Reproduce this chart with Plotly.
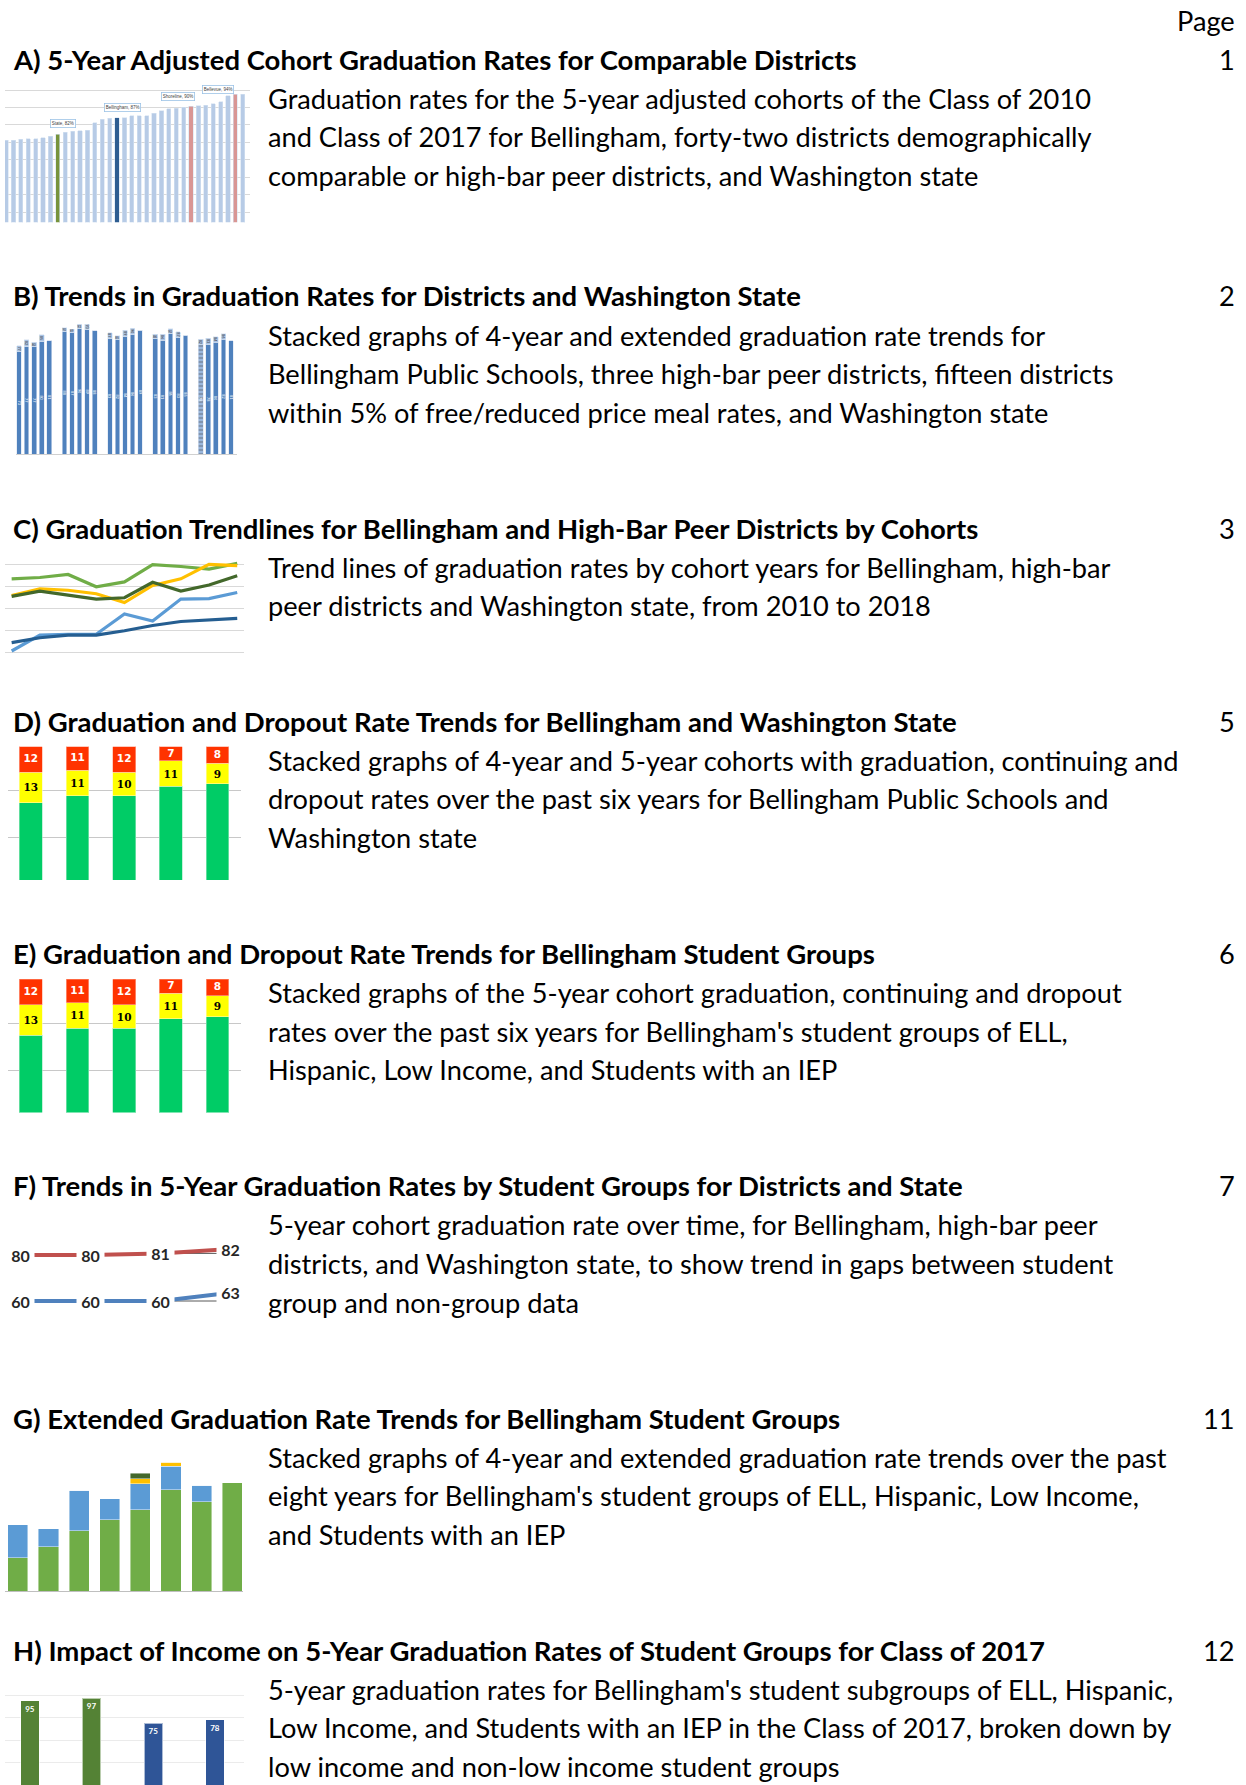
import plotly.graph_objects as go

W, H = 1246, 1785
FONT = "Lato"

# ---------------- data ----------------
# A) 5-year graduation rates, sorted, comparable districts
a_values = [80.7, 80.7, 80.9, 81.1, 81.1, 81.3, 81.8, 82.3, 82.9, 83.2, 83.3, 83.5,
            85.7, 86.7, 86.9, 87.0, 87.1, 87.7, 87.7, 87.7, 88.4, 89.0, 89.6, 89.8,
            90.1, 90.3, 90.5, 90.7, 91.0, 91.6, 93.3, 93.8, 93.8]
a_callout_idx = [7, 15, 25, 31]
a_callout_names = ["State", "Bellingham", "Shoreline", "Bellevue"]
a_callout_vals = ["82%", "87%", "90%", "94%"]

# B) 4-year rates and extended increments, 5 groups x 5 years
b_grad4 = [[73.1, 76.7, 76.9, 80.5, 81.2],
           [87.6, 86.7, 89.8, 89.0, 88.1],
           [82.9, 81.7, 83.8, 85.5, 88.6],
           [82.6, 81.4, 86.2, 83.3, 85.0],
           [78.1, 78.3, 80.0, 82.1, 81.2]]
b_ext = [[4.3, 5.2, 3.1, 4.7, 0],
         [2.6, 2.6, 3.1, 3.9, 0],
         [3.8, 3.1, 4.8, 4.5, 0],
         [3.1, 4.3, 3.3, 4.1, 0],
         [4.0, 4.6, 3.8, 3.9, 0]]

# C) trend lines 2010-2018
c_years = [2010, 2011, 2012, 2013, 2014, 2015, 2016, 2017, 2018]
c_peer1 = [86.7, 87.0, 87.7, 84.9, 86.0, 89.9, 89.5, 88.9, 90.2]
c_peer2 = [82.9, 84.4, 84.1, 83.3, 81.3, 85.2, 86.7, 90.0, 89.7]
c_peer3 = [82.7, 83.9, 83.0, 82.1, 82.4, 85.9, 83.9, 85.3, 87.4]
c_bell = [70.3, 73.9, 74.1, 74.1, 78.7, 77.1, 82.1, 82.2, 83.6]
c_state = [72.2, 73.3, 73.9, 73.9, 74.9, 76.1, 77.0, 77.4, 77.7]

# D/E) graduation, continuing and dropout
de_years = ["2013", "2014", "2015", "2016", "2017"]
de_graduated = [75, 78, 78, 82, 83]
de_continuing = [13, 11, 10, 11, 9]
de_dropout = [12, 11, 12, 7, 8]

# F) group vs non-group
f_years = ["2014", "2015", "2016", "2017"]
f_nongroup = [80.4, 80.4, 80.8, 81.9]
f_group = [60.2, 60.2, 60.2, 62.7]

# G) extended graduation stacked
g_years = ["2010", "2011", "2012", "2013", "2014", "2015", "2016", "2017"]
g_grad4 = [22.2, 29.8, 40.2, 47.6, 54.2, 67.6, 59.6, 72.4]
g_grad5 = [22.0, 11.8, 27.3, 14.0, 17.6, 15.6, 11.1, 0]
g_grad6 = [0, 0, 0, 0, 3.3, 2.9, 0, 0]
g_grad7 = [0, 0, 0, 0, 3.6, 0, 0, 0]

# H) impact of income
h_groups = ["Not Low Income A", "Not Low Income B", "Low Income A", "Low Income B"]
h_values = [95, 97, 75, 78]

# ---------------- text ----------------
headings = [
    "A) 5-Year Adjusted Cohort Graduation Rates for Comparable Districts",
    "B) Trends in Graduation Rates for Districts and Washington State",
    "C) Graduation Trendlines for Bellingham and High-Bar Peer Districts by Cohorts",
    "D) Graduation and Dropout Rate Trends for Bellingham and Washington State",
    "E) Graduation and Dropout Rate Trends for Bellingham Student Groups",
    "F) Trends in 5-Year Graduation Rates by Student Groups for Districts and State",
    "G) Extended Graduation Rate Trends for Bellingham Student Groups",
    "H) Impact of Income on 5-Year Graduation Rates of Student Groups for Class of 2017",
]
pages = ["1", "2", "3", "5", "6", "7", "11", "12"]
descriptions = [
    ["Graduation rates for the 5-year adjusted cohorts of the Class of 2010",
     "and Class of 2017 for Bellingham, forty-two districts demographically",
     "comparable or high-bar peer districts, and Washington state"],
    ["Stacked graphs of 4-year and extended graduation rate trends for",
     "Bellingham Public Schools, three high-bar peer districts, fifteen districts",
     "within 5% of free/reduced price meal rates, and Washington state"],
    ["Trend lines of graduation rates by cohort years for Bellingham, high-bar",
     "peer districts and Washington state, from 2010 to 2018"],
    ["Stacked graphs of 4-year and 5-year cohorts with graduation, continuing and",
     "dropout rates over the past six years for Bellingham Public Schools and",
     "Washington state"],
    ["Stacked graphs of the 5-year cohort graduation, continuing and dropout",
     "rates over the past six years for Bellingham's student groups of ELL,",
     "Hispanic, Low Income, and Students with an IEP"],
    ["5-year cohort graduation rate over time, for Bellingham, high-bar peer",
     "districts, and Washington state, to show trend in gaps between student",
     "group and non-group data"],
    ["Stacked graphs of 4-year and extended graduation rate trends over the past",
     "eight years for Bellingham's student groups of ELL, Hispanic, Low Income,",
     "and Students with an IEP"],
    ["5-year graduation rates for Bellingham's student subgroups of ELL, Hispanic,",
     "Low Income, and Students with an IEP in the Class of 2017, broken down by",
     "low income and non-low income student groups"],
]
heading_y = [59.2, 295.9, 528, 721.5, 953.7, 1185.8, 1418, 1650.1]
desc_y0 = [98, 335, 567, 760, 992.5, 1224.6, 1457, 1689]
LINE = 38.7
BODY = 27.2
HEAD = 27.5


def dx(x0, x1):
    return [x0 / W, x1 / W]


def dy(top, bottom):
    return [max(0, 1 - bottom / H), min(1, 1 - top / H)]


fig = go.Figure()
layout = dict(width=W, height=H, margin=dict(l=0, r=0, t=0, b=0),
              paper_bgcolor="white", plot_bgcolor="white", showlegend=False,
              barmode="stack", font=dict(family=FONT, color="black"))
ann = []

def axis(n, xdom, ydom, xr, yr, ygrid=False, dtick=None, tick0=None, gridcolor="#d9d9d9",
         xline=False, xlinecolor="#d9d9d9"):
    xs = "xaxis" if n == 1 else f"xaxis{n}"
    ys = "yaxis" if n == 1 else f"yaxis{n}"
    layout[xs] = dict(domain=xdom, range=xr, showgrid=False, zeroline=False,
                      showticklabels=False, ticks="", anchor=f"y{'' if n == 1 else n}",
                      showline=xline, linecolor=xlinecolor, linewidth=1, fixedrange=True)
    yd = dict(domain=ydom, range=yr, showgrid=ygrid, zeroline=False, showticklabels=False,
              ticks="", anchor=f"x{'' if n == 1 else n}", gridcolor=gridcolor, gridwidth=1,
              fixedrange=True)
    if dtick is not None:
        yd["dtick"] = dtick
        yd["tick0"] = tick0
    layout[ys] = yd

def ref(n):
    return ("x" if n == 1 else f"x{n}"), ("y" if n == 1 else f"y{n}")

# ---------------- A ----------------
axis(1, dx(5, 250), dy(86.5, 222.3), [-0.14, 32.97], [57.17, 96], ygrid=True, dtick=5, tick0=60)
callout_color = {"State": "#77933c", "Bellingham": "#2e5d91", "Shoreline": "#d99694", "Bellevue": "#d99694"}
a_colors = ["#b7cbe6"] * len(a_values)
for i, nm in zip(a_callout_idx, a_callout_names):
    a_colors[i] = callout_color[nm]
xa, ya = ref(1)
fig.add_trace(go.Bar(x=list(range(len(a_values))), y=a_values, base=0, width=0.56,
                     marker=dict(color=a_colors, line=dict(color="#d6e2f1", width=0.6)),
                     xaxis=xa, yaxis=ya, hoverinfo="skip"))
a_shift = {"State": (5, 11), "Bellingham": (5, 10), "Shoreline": (-13, 10), "Bellevue": (-17, 5)}
for i, nm, vl in zip(a_callout_idx, a_callout_names, a_callout_vals):
    sx, sy = a_shift[nm]
    ann.append(dict(x=i, y=a_values[i], xref=xa, yref=ya, text=f"{nm}, {vl}", showarrow=False,
                    xshift=sx, yshift=sy, font=dict(size=4.5, color="#404040", family="Liberation Sans"),
                    bgcolor="white", bordercolor="#9dc3e6", borderwidth=0.8, borderpad=1))

# ---------------- B ----------------
axis(2, dx(16, 237), dy(320, 454.3), [-0.4, 28.8], [0, 95.9], xline=True, xlinecolor="#d0d0d0")
xb, yb = ref(2)
bx, b4, be, b4t, bet = [], [], [], [], []
for g in range(5):
    for i in range(5):
        bx.append(g * 6 + i)
        b4.append(b_grad4[g][i])
        be.append(b_ext[g][i])
        b4t.append(f"{b_grad4[g][i]:.0f}")
        bet.append(f"{b_grad4[g][i] + b_ext[g][i]:.0f}" if b_ext[g][i] > 0 else "")
b_colors = ["#4f81bd"] * len(bx)
b_shapes = [""] * len(bx)
b_colors[20] = "#9bb7dc"
b_shapes[20] = "-"
fig.add_trace(go.Bar(x=bx, y=b4, width=0.62, text=b4t, textposition="inside",
                     insidetextanchor="middle", textfont=dict(size=4, color="white"),
                     marker=dict(color=b_colors, line=dict(color="#dbe5f1", width=0.6),
                                 pattern=dict(shape=b_shapes, fgcolor="#eaf0f8", size=4, solidity=0.3)),
                     xaxis=xb, yaxis=yb, hoverinfo="skip"))
fig.add_trace(go.Bar(x=bx, y=be, width=0.62, text=bet, textposition="inside",
                     insidetextanchor="middle", textfont=dict(size=4, color="#404040"),
                     marker=dict(color="#a9c3e3", line=dict(color="#dbe5f1", width=0.6)),
                     xaxis=xb, yaxis=yb, hoverinfo="skip"))

# ---------------- C ----------------
axis(3, dx(5, 244), dy(557.7, 658.9), [-0.236, 8.24], [68.5, 91.5], ygrid=True, dtick=5, tick0=70)
xc, yc = ref(3)
c_series = [(c_peer1, "#70ad47"), (c_peer2, "#ffc000"), (c_peer3, "#43682b"),
            (c_bell, "#5b9bd5"), (c_state, "#255e91")]
cx = list(range(len(c_years)))
for ser, col in c_series:
    fig.add_trace(go.Scatter(x=cx, y=ser, mode="lines", line=dict(color=col, width=3.2),
                             xaxis=xc, yaxis=yc, hoverinfo="skip"))

# ---------------- D and E ----------------
for n, top, bot in [(4, 746.7, 880.0), (5, 979.3, 1112.6)]:
    axis(n, dx(8.3, 241), dy(top, bot), [-0.482, 4.504], [41.8, 99.0], ygrid=True, dtick=20, tick0=0,
         gridcolor="#c8c8c8")
    xd, yd = ref(n)
    px = list(range(len(de_years)))
    fig.add_trace(go.Bar(x=px, y=de_graduated, width=0.49,
                         marker=dict(color="#00cc66", line=dict(color="#9ee8c0", width=0.6)),
                         xaxis=xd, yaxis=yd, hoverinfo="skip"))
    fig.add_trace(go.Bar(x=px, y=de_continuing, width=0.49, text=[f"<b>{v}</b>" for v in de_continuing],
                         textposition="inside", insidetextanchor="middle", textangle=0,
                         constraintext="none",
                         textfont=dict(size=10.5, color="black", family="DejaVu Serif"),
                         marker=dict(color="#ffff00", line=dict(color="#fffbb0", width=0.6)),
                         xaxis=xd, yaxis=yd, hoverinfo="skip"))
    fig.add_trace(go.Bar(x=px, y=de_dropout, width=0.49, text=[f"<b>{v}</b>" for v in de_dropout],
                         textposition="inside", insidetextanchor="middle", textangle=0,
                         constraintext="none",
                         textfont=dict(size=10.5, color="white", family="DejaVu Sans"),
                         marker=dict(color="#ff3300", line=dict(color="#ffb39e", width=0.6)),
                         xaxis=xd, yaxis=yd, hoverinfo="skip"))

# ---------------- F ----------------
fx = list(range(len(f_years)))
axis(6, dx(0, 250), dy(1235, 1275), [-0.296, 3.28], [75.4, 85.4])
axis(7, dx(0, 250), dy(1281, 1321), [-0.296, 3.28], [54.2, 66.2])
for n, ser, col in [(6, f_nongroup, "#c0504d"), (7, f_group, "#4f81bd")]:
    xf, yf = ref(n)
    fig.add_trace(go.Scatter(x=fx[2:], y=[ser[2], ser[2]], mode="lines",
                             line=dict(color="#595959", width=1), xaxis=xf, yaxis=yf, hoverinfo="skip"))
    fig.add_trace(go.Scatter(x=fx, y=ser, mode="lines", line=dict(color=col, width=4),
                             xaxis=xf, yaxis=yf, hoverinfo="skip"))
    for xi, v in zip(fx, ser):
        ann.append(dict(x=xi, y=v, xref=xf, yref=yf, text=f"<b>{v:.0f}</b>", showarrow=False,
                        width=27, borderpad=0, bgcolor="white",
                        font=dict(size=16, color="#262626", family=FONT)))

# ---------------- G ----------------
axis(8, dx(5, 243), dy(1460, 1591.3), [-0.419, 7.35], [0, 87.5], xline=True, xlinecolor="#bfbfbf")
xg, yg = ref(8)
gx = list(range(len(g_years)))
for ser, col in [(g_grad4, "#70ad47"), (g_grad5, "#5b9bd5"), (g_grad6, "#ffc000"), (g_grad7, "#43682b")]:
    fig.add_trace(go.Bar(x=gx, y=ser, width=0.66,
                         marker=dict(color=col, line=dict(color="rgba(255,255,255,0.55)", width=0.8)),
                         xaxis=xg, yaxis=yg, hoverinfo="skip"))

# ---------------- H ----------------
axis(9, dx(5, 244), dy(1690.5, 1785), [-0.405, 3.47], [20, 104], ygrid=True, dtick=20, tick0=0,
     gridcolor="#ebebeb")
xh, yh = ref(9)
h_colors = ["#548235", "#548235", "#2f5597", "#2f5597"]
fig.add_trace(go.Bar(x=list(range(len(h_groups))), y=h_values, width=0.3,
                     text=[f"<b>{v}</b>" for v in h_values], textposition="inside", insidetextanchor="end",
                     textangle=0, constraintext="none", textfont=dict(size=8, color="white", family=FONT),
                     marker=dict(color=h_colors, line=dict(color="rgba(255,255,255,0.6)", width=1)),
                     xaxis=xh, yaxis=yh, hoverinfo="skip"))

# ---------------- texts ----------------
ann.append(dict(x=1237 / W, y=1 - 20.5 / H, xref="paper", yref="paper", text="Page",
                xanchor="right", yanchor="middle", showarrow=False,
                font=dict(size=BODY, family=FONT, color="black")))
for k in range(8):
    yk = 1 - heading_y[k] / H
    ann.append(dict(x=10.5 / W, y=yk, xref="paper", yref="paper", text=f"<b>{headings[k]}</b>",
                    xanchor="left", yanchor="middle", showarrow=False,
                    font=dict(size=HEAD, family=FONT, color="black")))
    ann.append(dict(x=1237 / W, y=yk, xref="paper", yref="paper", text=pages[k],
                    xanchor="right", yanchor="middle", showarrow=False,
                    font=dict(size=BODY, family=FONT, color="black")))
    for j, line in enumerate(descriptions[k]):
        ann.append(dict(x=266.3 / W, y=1 - (desc_y0[k] + j * LINE) / H, xref="paper", yref="paper",
                        text=line, xanchor="left", yanchor="middle", showarrow=False,
                        font=dict(size=BODY, family=FONT, color="black")))

layout["annotations"] = ann
fig.update_layout(**layout)
fig.write_html("out.html", config={"displayModeBar": False, "staticPlot": True},
               post_script="document.body.style.margin='0';document.body.style.overflow='hidden';")
